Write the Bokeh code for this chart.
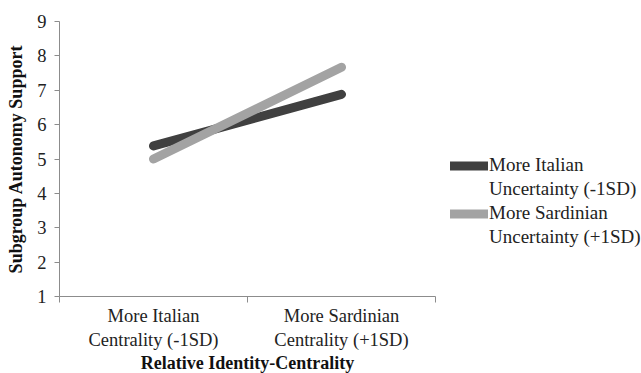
from bokeh.plotting import figure
from bokeh.models import Range1d, FixedTicker, Legend, LegendItem
from bokeh.embed import file_html
from bokeh.resources import INLINE

categories = ["More Italian\nCentrality (-1SD)", "More Sardinian\nCentrality (+1SD)"]
series_names = ["More Italian\nUncertainty (-1SD)", "More Sardinian\nUncertainty (+1SD)"]
italian_uncertainty = [5.38, 6.88]
sardinian_uncertainty = [5.0, 7.67]
y_ticks = [1, 2, 3, 4, 5, 6, 7, 8, 9]

xs = [i + 0.5 for i in range(len(categories))]
bounds = [i for i in range(len(categories) + 1)]

FONT = "Liberation Serif"

p = figure(frame_width=376, frame_height=275, output_backend="svg", toolbar_location=None,
           x_range=Range1d(0, len(categories)), y_range=Range1d(y_ticks[0], y_ticks[-1]),
           min_border_left=59, min_border_top=21, min_border_bottom=70, min_border_right=0)
p.outline_line_color = None
p.xgrid.visible = False
p.ygrid.visible = False

r1 = p.line(xs, italian_uncertainty, line_width=9, line_color="#404040", line_cap="round")
r2 = p.line(xs, sardinian_uncertainty, line_width=9, line_color="#a3a3a3", line_cap="round")
# empty, invisible renderer used for the second text line of each legend entry
blank = p.line([], [], line_alpha=0)

axis_color = "#8c8c8c"
for ax in (p.xaxis[0], p.yaxis[0]):
    ax.axis_line_color = axis_color
    ax.major_tick_line_color = axis_color
    ax.minor_tick_line_color = axis_color
    ax.major_label_text_font = FONT
    ax.major_label_text_font_size = "18.5px"
    ax.major_label_text_color = "#222222"
    ax.axis_label_text_font = FONT
    ax.axis_label_text_font_size = "18px"
    ax.axis_label_text_font_style = "bold"
    ax.axis_label_text_color = "#111111"

p.yaxis.ticker = FixedTicker(ticks=y_ticks)
p.yaxis.major_tick_in = 0
p.yaxis.major_tick_out = 5
p.yaxis.minor_tick_out = 0
p.yaxis.major_label_standoff = 8
p.yaxis.axis_label = "Subgroup Autonomy Support"
p.yaxis.axis_label_standoff = 8

p.xaxis.ticker = FixedTicker(ticks=xs, minor_ticks=bounds)
p.xaxis.major_tick_in = 0
p.xaxis.major_tick_out = 0
p.xaxis.minor_tick_in = 0
p.xaxis.minor_tick_out = 6
p.xaxis.major_label_overrides = {x: c for x, c in zip(xs, categories)}
p.xaxis.major_label_standoff = 3
p.xaxis.axis_label = "Relative Identity-Centrality"
p.xaxis.axis_label_standoff = 0

items = []
for name, r in zip(series_names, [r1, r2]):
    first, second = name.split("\n")
    items.append(LegendItem(label=first, renderers=[r]))
    items.append(LegendItem(label=second, renderers=[blank]))

legend = Legend(items=items, location=(15, 48), padding=0, margin=0, spacing=2,
                glyph_width=38, glyph_height=21, label_standoff=1, label_height=21,
                label_text_font=FONT, label_text_font_size="19px",
                label_text_color="#222222",
                border_line_alpha=0, background_fill_alpha=0)
p.add_layout(legend, "right")

open("out.html", "w").write(file_html(p, INLINE))
